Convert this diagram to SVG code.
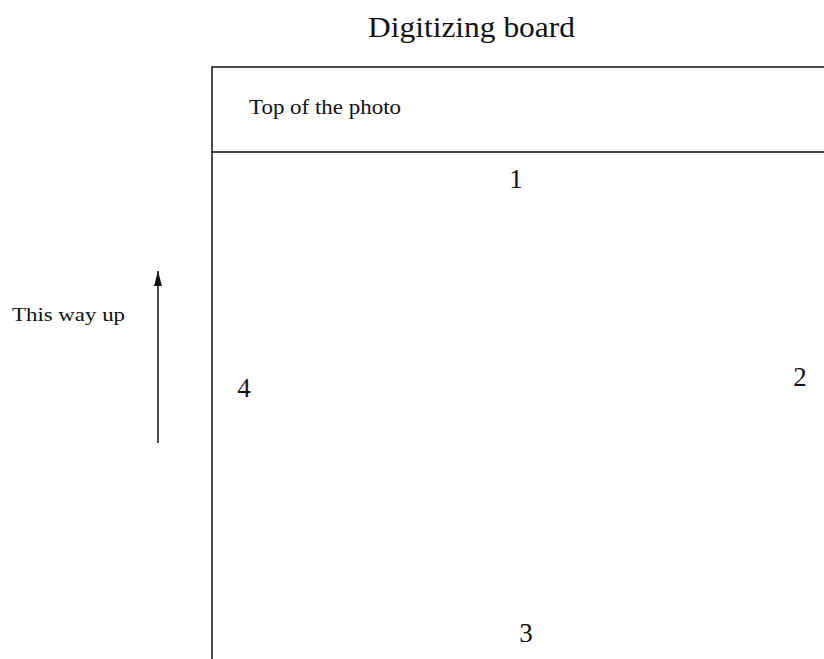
<svg xmlns="http://www.w3.org/2000/svg" width="824" height="659" viewBox="0 0 824 659">
<style>
.t{font-family:"Liberation Serif","Times New Roman",serif;fill:#111}
.ln{stroke:#111;stroke-width:1.5;fill:none}
.num{font-size:27px;text-anchor:middle}
</style>
<defs>
<marker id="ah" viewBox="0 0 15 8" refX="15" refY="4" markerWidth="15" markerHeight="8" orient="auto" markerUnits="userSpaceOnUse">
<path d="M0,0 L15,4 L0,8 Z" fill="#111"/>
</marker>
</defs>
<rect width="824" height="659" fill="#fff"/>
<text class="t" x="368" y="37" font-size="29" textLength="207" lengthAdjust="spacingAndGlyphs">Digitizing board</text>
<g id="board">
<path class="ln" d="M212,659 L212,67 L824,67"/>
<line class="ln" x1="212" y1="152" x2="824" y2="152"/>
</g>
<g id="top">
<text class="t" x="249" y="114" font-size="21" textLength="152" lengthAdjust="spacingAndGlyphs">Top of the photo</text>
</g>
<g id="side1"><text class="t num" x="516" y="188">1</text></g>
<g id="side2"><text class="t num" x="800" y="386">2</text></g>
<g id="side3"><text class="t num" x="526" y="642">3</text></g>
<g id="side4"><text class="t num" x="244" y="397">4</text></g>
<g id="label"><text class="t" x="12" y="321" font-size="19" textLength="113" lengthAdjust="spacingAndGlyphs">This way up</text></g>
<g id="connectors">
<line class="ln" x1="158" y1="443" x2="158" y2="271" marker-end="url(#ah)"/>
</g>
</svg>
